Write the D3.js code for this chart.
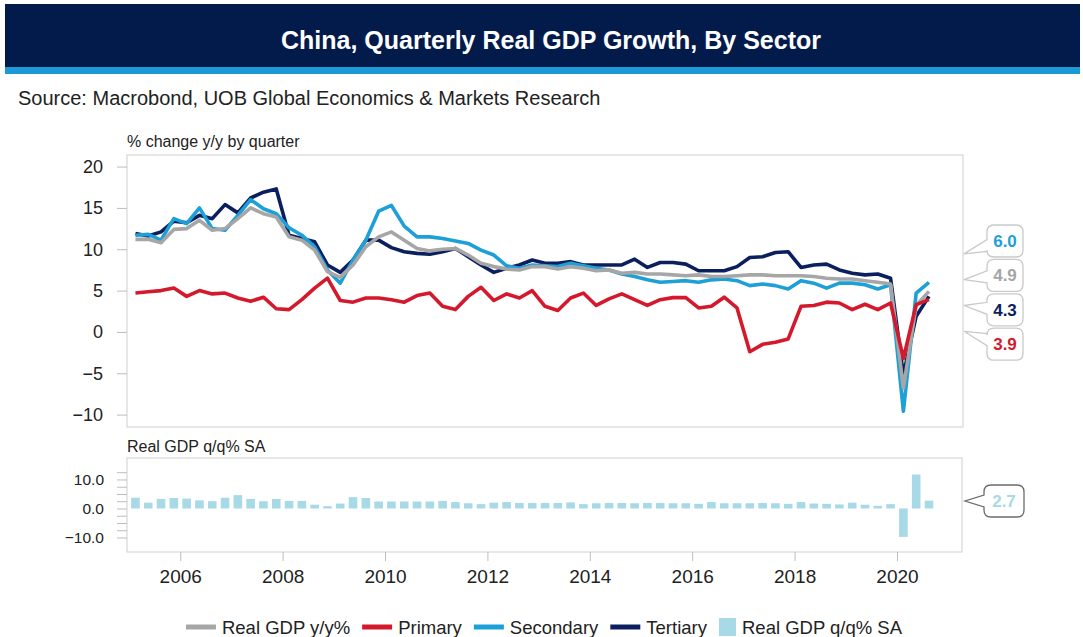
<!DOCTYPE html>
<html>
<head>
<meta charset="utf-8">
<script src="https://cdn.jsdelivr.net/npm/d3@7"></script>
<style>
  body { margin: 0; background: #fff; }
  svg { display: block; font-family: "Liberation Sans", Arial, sans-serif; }
</style>
</head>
<body>
<svg id="chart" width="1083" height="637"></svg>
<script>
// quarterly, 2005Q1 .. 2020Q3
const quarters = d3.range(2005, 2021).flatMap(y => [1, 2, 3, 4].map(q => `${y}Q${q}`)).slice(0, 63);

const gdpYoY = [11.2, 11.2, 10.8, 12.4, 12.5, 13.5, 12.3, 12.5, 13.7, 15.0, 14.3, 13.9,
  11.5, 11.1, 9.9, 7.3, 6.6, 8.1, 10.3, 11.5, 12.1, 11.1, 10.1, 9.8, 10.0, 10.1, 9.3, 8.3,
  7.9, 7.6, 7.5, 7.9, 7.9, 7.6, 7.9, 7.7, 7.4, 7.5, 7.1, 7.2, 7.0, 7.0, 6.9, 6.8,
  6.9, 6.7, 6.7, 6.8, 6.9, 6.9, 6.8, 6.8, 6.8, 6.7, 6.5, 6.4, 6.4, 6.2, 6.0, 5.8,
  -6.8, 3.2, 4.9];

const primary = [4.7, 4.85, 5.0, 5.3, 4.3, 5.0, 4.6, 4.7, 4.1, 3.7, 4.2, 2.8,
  2.7, 3.9, 5.3, 6.5, 3.8, 3.6, 4.1, 4.1, 3.9, 3.6, 4.4, 4.7, 3.1, 2.7, 4.3, 5.4,
  3.8, 4.6, 4.1, 5.0, 3.1, 2.6, 4.1, 4.7, 3.2, 4.0, 4.6, 3.9, 3.2, 3.9, 4.15, 4.15,
  2.9, 3.1, 4.2, 2.9, -2.4, -1.5, -1.25, -0.85, 3.1, 3.2, 3.6, 3.5, 2.7, 3.35, 2.7, 3.5,
  -3.2, 3.3, 3.9];

const secondary = [11.7, 11.8, 11.1, 13.7, 13.1, 15.0, 12.5, 12.3, 14.1, 16.0, 14.9, 14.3,
  12.6, 11.7, 10.3, 7.5, 5.9, 8.7, 11.1, 14.6, 15.3, 12.8, 11.5, 11.5, 11.3, 11.0, 10.7, 9.9,
  9.3, 8.0, 7.7, 8.1, 8.0, 7.9, 8.3, 8.0, 7.7, 7.5, 7.0, 6.7, 6.3, 6.0, 6.1, 6.2,
  6.0, 6.3, 6.4, 6.2, 5.6, 5.8, 5.6, 5.2, 6.2, 5.9, 5.3, 5.9, 5.9, 5.7, 5.2, 5.7,
  -9.6, 4.7, 6.0];

const tertiary = [11.9, 11.6, 12.1, 13.4, 13.2, 14.1, 13.7, 15.4, 14.4, 16.2, 16.9, 17.3,
  11.7, 11.3, 10.9, 8.1, 7.2, 8.7, 11.1, 11.1, 10.2, 9.7, 9.5, 9.4, 9.7, 10.1, 9.1, 8.1,
  7.2, 7.7, 8.1, 8.7, 8.3, 8.3, 8.5, 8.1, 8.1, 8.1, 8.1, 8.8, 7.8, 8.4, 8.4, 8.2,
  7.4, 7.4, 7.4, 7.9, 9.0, 9.1, 9.6, 9.7, 7.8, 8.1, 8.2, 7.5, 7.1, 6.9, 7.0, 6.5,
  -5.2, 1.9, 4.3];

const gdpQoQ = [3.7, 2.0, 3.3, 3.6, 3.4, 2.8, 2.5, 3.7, 4.6, 3.3, 2.5, 3.3,
  2.6, 2.6, 1.3, 0.8, 1.7, 3.9, 3.6, 2.4, 2.4, 2.4, 2.4, 2.4, 2.6, 2.2, 1.8, 1.5,
  2.0, 2.2, 1.9, 1.9, 1.9, 1.9, 2.1, 1.5, 1.8, 1.9, 1.9, 1.8, 1.9, 1.9, 1.8, 1.8,
  1.6, 2.2, 1.8, 1.8, 1.8, 1.9, 1.8, 1.6, 2.2, 1.7, 1.6, 1.4, 2.0, 1.3, 0.9, 1.5,
  -9.8, 11.7, 2.7];

const yearTicks = [2006, 2008, 2010, 2012, 2014, 2016, 2018, 2020];
const yTicks = [-10, -5, 0, 5, 10, 15, 20];
const qqLabelTicks = [-10, 0, 10];
const qqMinorTicks = [-10, -7.5, -5, -2.5, 0, 2.5, 5, 7.5, 10, 12.5];

const colors = {
  gdp: '#a6a6a6',
  primary: '#d5192c',
  secondary: '#1d9fd8',
  tertiary: '#0b1f5e',
  bars: '#a7d9e7'
};

const svg = d3.select('#chart');

// title bar
svg.append('rect').attr('x', 5).attr('y', 4).attr('width', 1075).attr('height', 63).attr('fill', '#021b4b');
svg.append('rect').attr('x', 5).attr('y', 67).attr('width', 1075).attr('height', 7).attr('fill', '#1b9ad6');
svg.append('text')
  .attr('x', 551).attr('y', 49)
  .attr('text-anchor', 'middle')
  .attr('fill', '#fff')
  .attr('font-size', 25)
  .attr('font-weight', 'bold')
  .text('China, Quarterly Real GDP Growth, By Sector');

svg.append('text')
  .attr('x', 18).attr('y', 105)
  .attr('fill', '#222')
  .attr('font-size', 20)
  .text('Source: Macrobond, UOB Global Economics & Markets Research');

// scales
const qpos = quarters.map(s => +s.slice(0, 4) + (+s.slice(5) - 0.5) / 4);

const x = d3.scaleLinear().domain([2004.96, 2021.27]).range([127, 962]);
const yTop = d3.scaleLinear().domain([-11.5, 21.4]).range([427, 155]);
const yBot = d3.scaleLinear().domain([-15, 17.4]).range([552, 458]);

//
// top panel
//
svg.append('text').attr('x', 127).attr('y', 147).attr('font-size', 16).attr('fill', '#222')
  .text('% change y/y by quarter');

svg.append('rect')
  .attr('x', 127).attr('y', 155).attr('width', 836).attr('height', 272)
  .attr('fill', '#fff').attr('stroke', '#cfcfcf');

const yAxis = svg.append('g')
  .attr('transform', 'translate(127,0)')
  .call(d3.axisLeft(yTop).tickValues(yTicks).tickSize(10).tickPadding(14));
yAxis.select('.domain').remove();
yAxis.selectAll('line').attr('stroke', '#bdbdbd');
yAxis.selectAll('text').attr('font-size', 18).attr('fill', '#222').attr('font-family', 'Liberation Sans, Arial, sans-serif');

const line = d3.line()
  .x((d, i) => x(qpos[i]))
  .y(d => yTop(d));

const series = [
  { key: 'tertiary', values: tertiary },
  { key: 'secondary', values: secondary },
  { key: 'gdp', values: gdpYoY },
  { key: 'primary', values: primary }
];

svg.append('g').selectAll('path')
  .data(series)
  .enter()
  .append('path')
  .attr('d', d => line(d.values))
  .attr('fill', 'none')
  .attr('stroke', d => colors[d.key])
  .attr('stroke-width', 3.6)
  .attr('stroke-linejoin', 'round');

//
// bottom panel
//
svg.append('text').attr('x', 127).attr('y', 452).attr('font-size', 16).attr('fill', '#222')
  .text('Real GDP q/q% SA');

svg.append('rect')
  .attr('x', 127).attr('y', 458).attr('width', 835).attr('height', 94)
  .attr('fill', '#fff').attr('stroke', '#cfcfcf');

const qqMinor = svg.append('g')
  .attr('transform', 'translate(127,0)')
  .call(d3.axisLeft(yBot).tickValues(qqMinorTicks).tickSize(10).tickFormat(''));
qqMinor.select('.domain').remove();
qqMinor.selectAll('line').attr('stroke', '#bdbdbd');

const qqAxis = svg.append('g')
  .attr('transform', 'translate(127,0)')
  .call(d3.axisLeft(yBot).tickValues(qqLabelTicks).tickSize(0).tickPadding(23).tickFormat(d3.format('.1f')));
qqAxis.select('.domain').remove();
qqAxis.selectAll('text').attr('font-size', 15.5).attr('fill', '#222').attr('font-family', 'Liberation Sans, Arial, sans-serif');

const bw = 8.6;
svg.append('g').selectAll('rect')
  .data(gdpQoQ)
  .enter()
  .append('rect')
  .attr('x', (d, i) => x(qpos[i]) - bw / 2)
  .attr('y', d => yBot(Math.max(0, d)))
  .attr('width', bw)
  .attr('height', d => Math.abs(yBot(d) - yBot(0)))
  .attr('fill', colors.bars);

// x axis
const xAxis = svg.append('g')
  .attr('transform', 'translate(0,552)')
  .call(d3.axisBottom(x).tickValues(yearTicks).tickSize(9).tickPadding(9).tickFormat(d3.format('d')));
xAxis.select('.domain').remove();
xAxis.selectAll('line').attr('stroke', '#bdbdbd');
xAxis.selectAll('text').attr('font-size', 19).attr('fill', '#222').attr('font-family', 'Liberation Sans, Arial, sans-serif');

//
// callouts for last values
//
function bubble(bx, by, w, h, tipX, tipY) {
  const r = 7;
  const cy = by + h / 2;
  const shift = (tipY - cy) * 0.35;
  const yA = cy - 6 + shift, yB = cy + 6 + shift;
  return `M${bx + r},${by} H${bx + w - r} Q${bx + w},${by} ${bx + w},${by + r}` +
    ` V${by + h - r} Q${bx + w},${by + h} ${bx + w - r},${by + h}` +
    ` H${bx + r} Q${bx},${by + h} ${bx},${by + h - r}` +
    ` V${yB} L${tipX},${tipY} L${bx},${yA} V${by + r} Q${bx},${by} ${bx + r},${by} Z`;
}

const last = gdpQoQ.length - 1;
const topLabels = [
  { key: 'secondary', value: secondary[last] },
  { key: 'gdp', value: gdpYoY[last] },
  { key: 'tertiary', value: tertiary[last] },
  { key: 'primary', value: primary[last] }
];

const boxW = 36, boxH = 32, boxX = 987, box0 = 225, boxStep = 34.4;
const midY = box0 + boxH / 2 + boxStep * (topLabels.length - 1) / 2;
topLabels.forEach((d, i) => {
  const by = box0 + i * boxStep;
  const cy = by + boxH / 2;
  const tipY = cy + (midY - cy) * 0.25;
  svg.append('path')
    .attr('d', bubble(boxX, by, boxW, boxH, 964, tipY))
    .attr('fill', '#fff').attr('stroke', '#c9c9c9').attr('stroke-width', 1.3);
  svg.append('text')
    .attr('x', boxX + boxW / 2).attr('y', cy + 6)
    .attr('text-anchor', 'middle')
    .attr('font-size', 17).attr('font-weight', 'bold')
    .attr('fill', colors[d.key])
    .text(d3.format('.1f')(d.value));
});

svg.append('path')
  .attr('d', bubble(984, 485, 40, 32, 965, 501))
  .attr('fill', '#fff').attr('stroke', '#6b6b6b').attr('stroke-width', 1.3);
svg.append('text')
  .attr('x', 1004).attr('y', 507)
  .attr('text-anchor', 'middle')
  .attr('font-size', 17).attr('font-weight', 'bold')
  .attr('fill', colors.bars)
  .text(d3.format('.1f')(gdpQoQ[last]));

//
// legend
//
const legendItems = [
  { label: 'Real GDP y/y%', key: 'gdp', type: 'line' },
  { label: 'Primary', key: 'primary', type: 'line' },
  { label: 'Secondary', key: 'secondary', type: 'line' },
  { label: 'Tertiary', key: 'tertiary', type: 'line' },
  { label: 'Real GDP q/q% SA', key: 'bars', type: 'box' }
];

const legend = svg.append('g');
let lx = 0;
legendItems.forEach(d => {
  const g = legend.append('g').attr('transform', `translate(${lx},0)`);
  let sw;
  if (d.type === 'line') {
    g.append('line').attr('x1', 0).attr('x2', 30).attr('y1', 0).attr('y2', 0)
      .attr('stroke', colors[d.key]).attr('stroke-width', 5);
    sw = 30;
  } else {
    g.append('rect').attr('x', 0).attr('y', -9).attr('width', 17).attr('height', 18).attr('fill', colors[d.key]);
    sw = 17;
  }
  const t = g.append('text').attr('x', sw + 6).attr('y', 6.5).attr('font-size', 18.5).attr('fill', '#222').text(d.label);
  lx += sw + 6 + t.node().getComputedTextLength() + 12;
});
const legendW = lx - 12;
legend.attr('transform', `translate(${544 - legendW / 2},627)`);
</script>
</body>
</html>
